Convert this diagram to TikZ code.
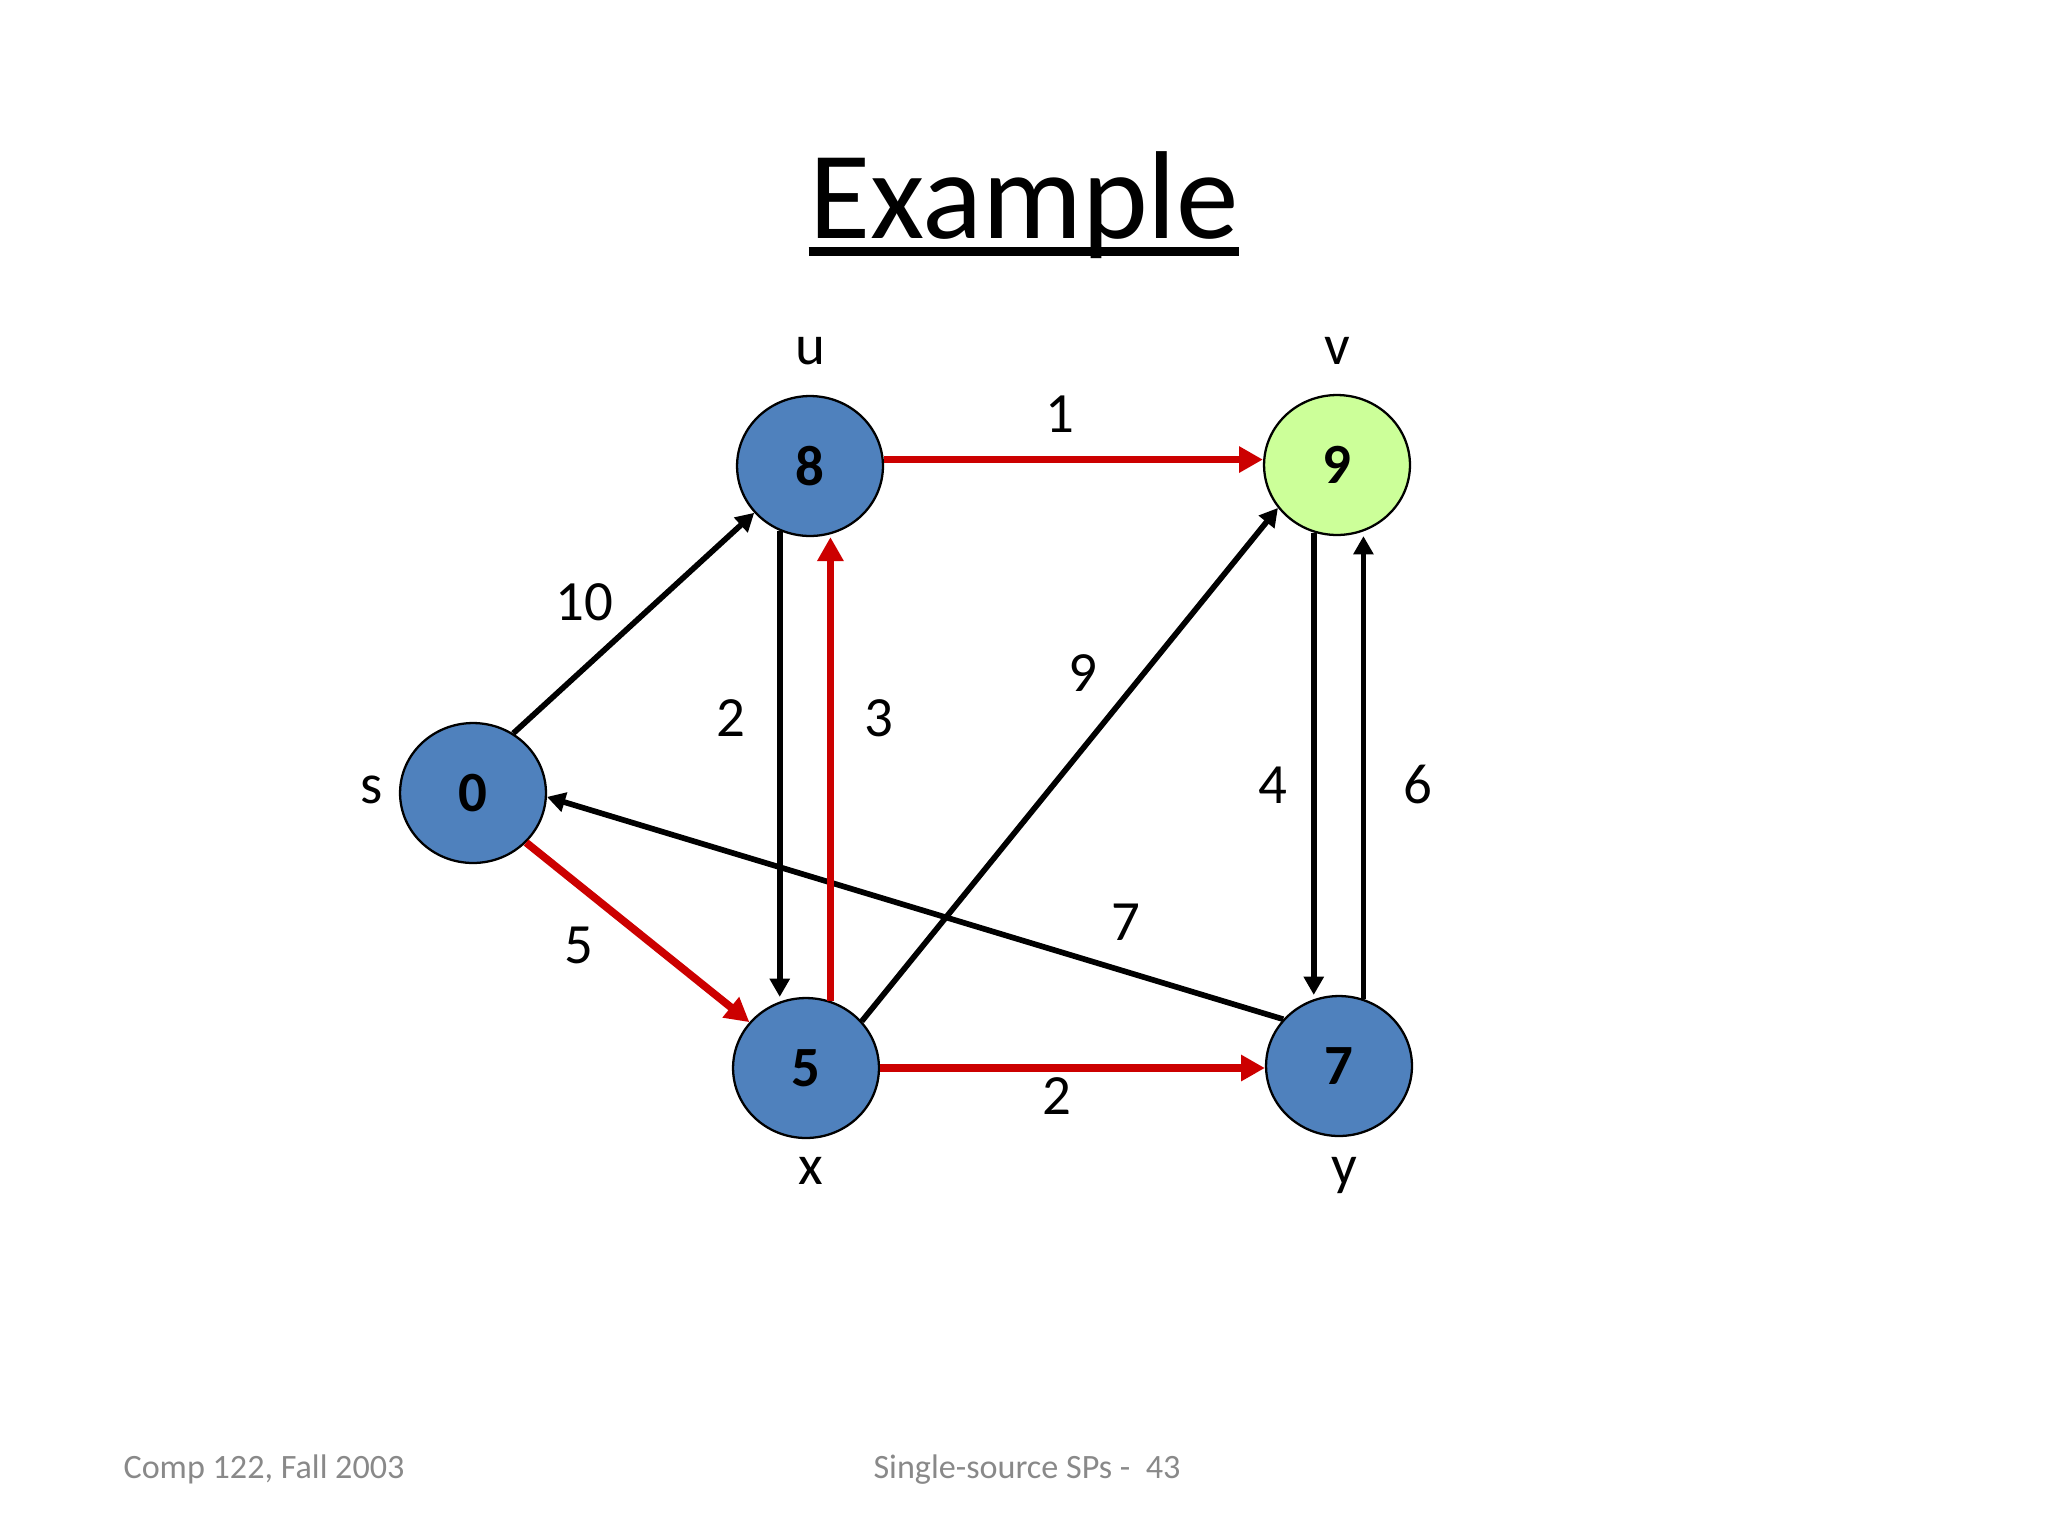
\documentclass[tikz,border=0pt]{standalone}
\usepackage{fontspec}
\setmainfont{Carlito}
\usetikzlibrary{arrows.meta,shapes.geometric,calc}

\definecolor{nodeblue}{HTML}{4F81BD}
\definecolor{nodegreen}{HTML}{CCFF99}
\definecolor{pathred}{HTML}{CC0000}
\definecolor{footgray}{HTML}{898989}

\begin{document}
\begin{tikzpicture}[x=0.3516pt, y=-0.3516pt,
  vertex/.style={ellipse, draw=black, line width=0.8pt, fill=nodeblue,
    minimum width=51.3pt, minimum height=49.2pt, inner sep=0pt,
    font=\fontsize{20}{24}\selectfont\bfseries},
  edge/.style={line width=2pt, -{Triangle[length=6.4pt,width=6.8pt]}},
  redge/.style={line width=2.7pt, pathred, -{Triangle[length=8.4pt,width=8.8pt]}},
  lbl/.style={anchor=base, inner sep=0pt, font=\fontsize{20}{24}\selectfont},
  foot/.style={anchor=base west, inner sep=0pt, text=footgray,
    font=\fontsize{12}{14}\selectfont}]

  % --- Page (slide 2048 x 1536, y going down) ---
  \useasboundingbox (0,0) rectangle (2048,1536);

  % --- Title ---
  \node[anchor=base, inner sep=0pt, font=\fontsize{44}{53}\selectfont] (title) at (1024,238) {Example};
  \draw[line width=3.2pt] ($(title.base west)+(0,13.5)$) -- ($(title.base east)+(0,13.5)$);

  % --- Vertices ---
  \node[vertex] (s) at (473,793) {0};
  \node[vertex] (u) at (810,466) {8};
  \node[vertex, fill=nodegreen] (v) at (1337,465) {9};
  \node[vertex] (x) at (806,1068) {5};
  \node[vertex] (y) at (1339,1066) {7};

  % --- Black edges ---
  \draw[edge] (s.56) -- (u.220);
  \draw[edge] (u.245) -- (u.245 |- x.north);
  \draw[edge] (x.40) -- (v.216);
  \draw[edge] (v.251) -- (v.251 |- y.north);
  \draw[edge] (y.70) -- (y.70 |- v.south);
  \draw[edge] (y.140) -- (s.357);

  % --- Red edges (shortest-path tree) ---
  \draw[redge] (x.70) -- (x.70 |- u.south);
  \draw[redge] (u.5) -- (u.5 -| v.west);
  \draw[redge] (s.317) -- (x.141);
  \draw[redge] (x.east) -- (x.east -| y.west);

  % --- Vertex names ---
  \foreach \n/\px/\py/\t in {ns/372/803/s, nu/810/364/u, nv/1337/364/v,
      nx/811/1184/x, ny/1344/1184/y}
    \node[lbl] (\n) at (\px,\py) {\t};

  % --- Edge weights ---
  \foreach \n/\px/\py/\t in {wuv/1060/432/1, wsu/584/620/10, wux/731/736/2,
      wxu/879/736/3, wxv/1083/691/9, wvy/1273/803/4, wyv/1418/803/6,
      wys/1126/940/7, wsx/579/963/5, wxy/1057/1114/2}
    \node[lbl] (\n) at (\px,\py) {\t};

  % --- Footer ---
  \node[foot] (course) at (123,1478) {Comp 122, Fall 2003};
  \node[foot] (slideno) at (873,1478) {Single-source SPs -\ \ 43};
\end{tikzpicture}
\end{document}
